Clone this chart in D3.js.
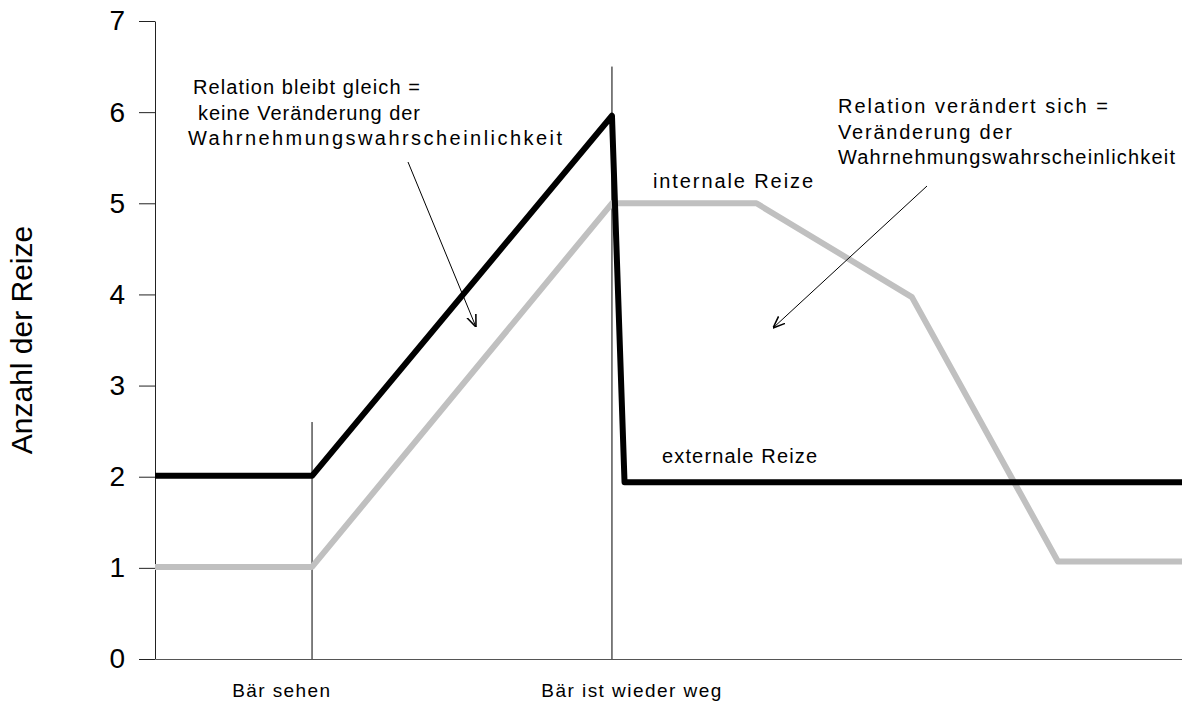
<!DOCTYPE html>
<html>
<head>
<meta charset="utf-8">
<script src="https://cdn.jsdelivr.net/npm/d3@7"></script>
<style>
  body { margin: 0; background: #fff; }
  svg { display: block; font-family: "Liberation Sans", Arial, sans-serif; }
  .note { font-size: 20px; fill: #000; }
</style>
</head>
<body>
<div id="chart"></div>
<script>
// data (x in "time steps", y = Anzahl der Reize)
const externalX = [0, 1, 2.91, 2.99, 6.54];
const externalY = [2.01, 2.01, 5.96, 1.94, 1.94];
const internalX = [0, 1, 2.91, 3.83, 4.82, 5.75, 6.54];
const internalY = [1.01, 1.01, 5.0, 5.0, 3.97, 1.07, 1.07];
const yTicks = [0, 1, 2, 3, 4, 5, 6, 7];
const eventLabels = ["Bär sehen", "Bär ist wieder weg"];
const eventLabelPos = [0.8, 3.03];
const eventMarks = [1, 2.91];
const eventTop = [2.6, 6.5];

let w = 1182;
let h = 706;
const margin = {top: 21, right: 0, bottom: 47, left: 155};

const svg = d3.select("#chart")
              .append("svg")
              .attr("width", w)
              .attr("height", h);

const x = d3.scaleLinear()
            .domain([0, 6.54])
            .range([margin.left, w - margin.right]);

const y = d3.scaleLinear()
            .domain([0, 7])
            .range([h - margin.bottom, margin.top]);

// y axis
const yAxis = d3.axisLeft(y)
                .tickValues(yTicks)
                .tickSize(16)
                .tickSizeOuter(0)
                .tickPadding(14)
                .tickFormat(d3.format("d"));

const gy = svg.append("g")
   .attr("transform", `translate(${margin.left},0)`)
   .call(yAxis);
gy.selectAll("text").style("font-size", "28px").attr("fill", "#000");
gy.selectAll("line, path").attr("stroke", "#222");

// x axis: baseline and event labels
const labelWidths = [98, 180];
const xAxis = d3.axisBottom(x)
                .tickValues(eventLabelPos)
                .tickSize(0)
                .tickPadding(25)
                .tickFormat((d, i) => eventLabels[i]);

const gx = svg.append("g")
   .attr("transform", `translate(0,${y(0)})`)
   .call(xAxis);
gx.select(".domain").attr("stroke", "#555").attr("stroke-width", 1.2);
gx.selectAll("text")
  .style("font-size", "19px")
  .attr("textLength", (d, i) => labelWidths[i])
  .attr("lengthAdjust", "spacing")
  .attr("fill", "#000");

// thin vertical event markers
svg.selectAll(".marker")
   .data(eventMarks)
   .enter()
   .append("line")
   .attr("class", "marker")
   .attr("x1", d => x(d))
   .attr("x2", d => x(d))
   .attr("y1", (d, i) => y(eventTop[i]))
   .attr("y2", y(0))
   .attr("stroke", "#000")
   .attr("stroke-width", 1);

// y axis title
svg.append("text")
   .attr("transform", `translate(32,${y(3.5)}) rotate(-90)`)
   .attr("text-anchor", "middle")
   .style("font-size", "30px")
   .text("Anzahl der Reize");

// lines
const line = d3.line()
               .x(d => x(d[0]))
               .y(d => y(d[1]));

svg.append("path")
   .datum(internalX.map((v, i) => [v, internalY[i]]))
   .attr("d", line)
   .attr("fill", "none")
   .attr("stroke", "#c0c0c0")
   .attr("stroke-width", 6)
   .attr("stroke-linejoin", "round");

svg.append("path")
   .datum(externalX.map((v, i) => [v, externalY[i]]))
   .attr("d", line)
   .attr("fill", "none")
   .attr("stroke", "#000")
   .attr("stroke-width", 6)
   .attr("stroke-linejoin", "round");

// annotations
svg.append("defs").append("marker")
   .attr("id", "arrow")
   .attr("viewBox", "0 0 10 10")
   .attr("refX", 10)
   .attr("refY", 5)
   .attr("markerWidth", 12)
   .attr("markerHeight", 12)
   .attr("markerUnits", "userSpaceOnUse")
   .attr("orient", "auto")
   .append("path")
   .attr("d", "M0,1 L10,5 L0,9")
   .attr("fill", "none")
   .attr("stroke", "#000")
   .attr("stroke-width", 1.3);

// each line: [text, x, baseline, width]
function note(lines) {
  lines.forEach(l => {
    svg.append("text")
       .attr("class", "note")
       .attr("x", l[1])
       .attr("y", l[2])
       .attr("textLength", l[3])
       .attr("lengthAdjust", "spacing")
       .text(l[0]);
  });
}

note([
  ["Relation bleibt gleich =", 193, 94, 227],
  ["keine Veränderung der", 198, 120, 222],
  ["Wahrnehmungswahrscheinlichkeit", 188, 145, 374],
  ["Relation verändert sich  =", 838, 113, 270],
  ["Veränderung der", 838, 139, 174],
  ["Wahrnehmungswahrscheinlichkeit", 838, 164, 337],
  ["internale Reize", 653, 188, 160],
  ["externale Reize", 662, 463, 155]
]);

svg.append("line")
   .attr("x1", 408).attr("y1", 162)
   .attr("x2", 476).attr("y2", 327)
   .attr("stroke", "#000").attr("stroke-width", 1)
   .attr("marker-end", "url(#arrow)");

svg.append("line")
   .attr("x1", 927).attr("y1", 186)
   .attr("x2", 773).attr("y2", 328)
   .attr("stroke", "#000").attr("stroke-width", 1)
   .attr("marker-end", "url(#arrow)");
</script>
</body>
</html>
